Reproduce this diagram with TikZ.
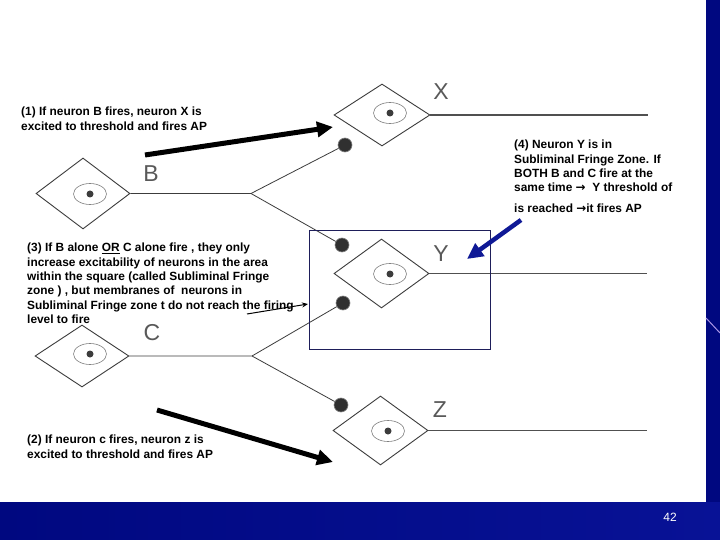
\documentclass[tikz,border=0pt]{standalone}
\usepackage{fontspec}
\setmainfont{Liberation Sans}
\newfontfamily\symfont{DejaVu Sans}
\usetikzlibrary{arrows.meta,shapes.geometric}
\definecolor{slideblue}{RGB}{0,8,128}
\definecolor{slideblueR}{RGB}{8,18,150}
\definecolor{inkgray}{RGB}{60,60,60}
\definecolor{boxnavy}{RGB}{30,30,90}
\definecolor{arrowblue}{RGB}{15,25,150}
\definecolor{decor}{RGB}{170,150,230}
\newcommand{\rarr}{{\symfont\bfseries →}}
\begin{document}
\begin{tikzpicture}[x=1pt,y=-1pt,
 neuron/.style={diamond, draw=inkgray, line width=0.9pt, inner sep=0pt},
 wire/.style={draw=inkgray, line width=0.8pt},
 axon/.style={draw=inkgray!90, line width=1.1pt},
 syn/.style={circle, fill=inkgray!80!black, draw=gray, line width=0.6pt, minimum size=14pt, inner sep=0pt},
 nucleus/.style={ellipse, draw=gray, line width=0.6pt, minimum width=33pt, minimum height=21pt, inner sep=0pt},
 nucdot/.style={circle, fill=inkgray, minimum size=7pt, inner sep=0pt},
 letter/.style={font=\fontsize{23}{23}\selectfont, text=inkgray!85},
 note/.style={font=\fontsize{11.9}{14.3}\selectfont\bfseries, align=left, anchor=north west, inner sep=0pt},
 bigarrow/.style={line width=5pt, -{Triangle[length=16pt,width=15pt]}}
]
\useasboundingbox (0,0) rectangle (720,540);
\fill[white] (0,0) rectangle (720,540);
% slide frame
\fill[slideblue] (706,0) rectangle (720,502);
\shade[left color=slideblue, right color=slideblueR] (0,502) rectangle (720,540);
\draw[decor, line width=1pt] (706,318) -- (720,333);
\node[text=white, font=\fontsize{12}{12}\selectfont] (pg) at (670,517) {42};

% neurons
\node[neuron, minimum width=96pt, minimum height=62pt] (X) at (382,115) {};
\node[neuron, minimum width=94pt, minimum height=71pt] (B) at (83,193.5) {};
\node[neuron, minimum width=95pt, minimum height=69pt] (Y) at (381.5,273.5) {};
\node[neuron, minimum width=94pt, minimum height=62pt] (C) at (82,356) {};
\node[neuron, minimum width=95pt, minimum height=69pt] (Z) at (380.5,430.5) {};

\foreach \n/\px/\py in {X/390/113, B/90/194, Y/390/274, C/90/354, Z/388/431}{
  \node[nucleus] (nu\n) at (\px,\py) {};
  \node[nucdot] (nd\n) at (nu\n) {};
}

% letters
\node[letter] (lX) at (441,92) {X};
\node[letter] (lB) at (151,174) {B};
\node[letter] (lY) at (441,254) {Y};
\node[letter] (lC) at (152,333) {C};
\node[letter] (lZ) at (440,410) {Z};

% axons
\coordinate (eX) at (648,115);
\coordinate (eY) at (647,273.5);
\coordinate (eZ) at (647,430.5);
\draw[axon] (X.east) -- (eX);
\draw[axon] (Y.east) -- (eY);
\draw[axon] (Z.east) -- (eZ);

% synapses
\node[syn] (sX) at (345,145) {};
\node[syn] (sYt) at (342,245) {};
\node[syn] (sYb) at (343,303) {};
\node[syn] (sZ) at (341,405) {};

\coordinate (bB) at (251,193.5);
\coordinate (bC) at (252,356);
\draw[wire] (B.east) -- (bB) -- (sX);
\draw[wire] (bB) -- (sYt);
\draw[wire] (C.east) -- (bC) -- (sYb);
\draw[wire] (bC) -- (sZ);

% subliminal fringe zone
\node[draw=boxnavy, line width=1pt, anchor=north west, minimum width=181pt, minimum height=119pt, inner sep=0pt] (zone) at (309,230) {};

% notes
\node[note] (n1) at (21,107) {(1) If neuron B fires, neuron X is\\excited to threshold and fires AP};
\node[note] (n2) at (27,435) {(2) If neuron c fires, neuron z is\\excited to threshold and fires AP};
\node[note] (n3) at (27,243) {(3) If B alone \underline{OR} C alone fire , they only\\increase excitability of neurons in the area\\within the square (called Subliminal Fringe\\zone ) , but membranes of\ \ neurons in\\Subliminal Fringe zone t do not reach the firing\\level to fire};
\node[note] (n4) at (514,140) {(4) Neuron Y is in\\Subliminal Fringe Zone. If\\BOTH B and C fire at the\\same time \rarr\ \ Y threshold of};
\node[note, anchor=base west] (n4b) at (514,212) {is reached \rarr it fires AP};

% annotation arrows
\coordinate (a1s) at (145,155);
\coordinate (a1e) at (333,127);
\coordinate (a2s) at (157,410);
\coordinate (a2e) at (333,462);
\coordinate (a4s) at (521,220);
\coordinate (a4e) at (467,259);
\coordinate (a3s) at (247,314);
\coordinate (a3e) at (308,304);
\draw[bigarrow] (a1s) -- (a1e);
\draw[bigarrow] (a2s) -- (a2e);
\draw[bigarrow, draw=arrowblue, fill=arrowblue, line width=4.5pt] (a4s) -- (a4e);
\draw[line width=1pt, -{Stealth[length=6pt,width=5pt]}] (a3s) -- (a3e);
\end{tikzpicture}
\end{document}
